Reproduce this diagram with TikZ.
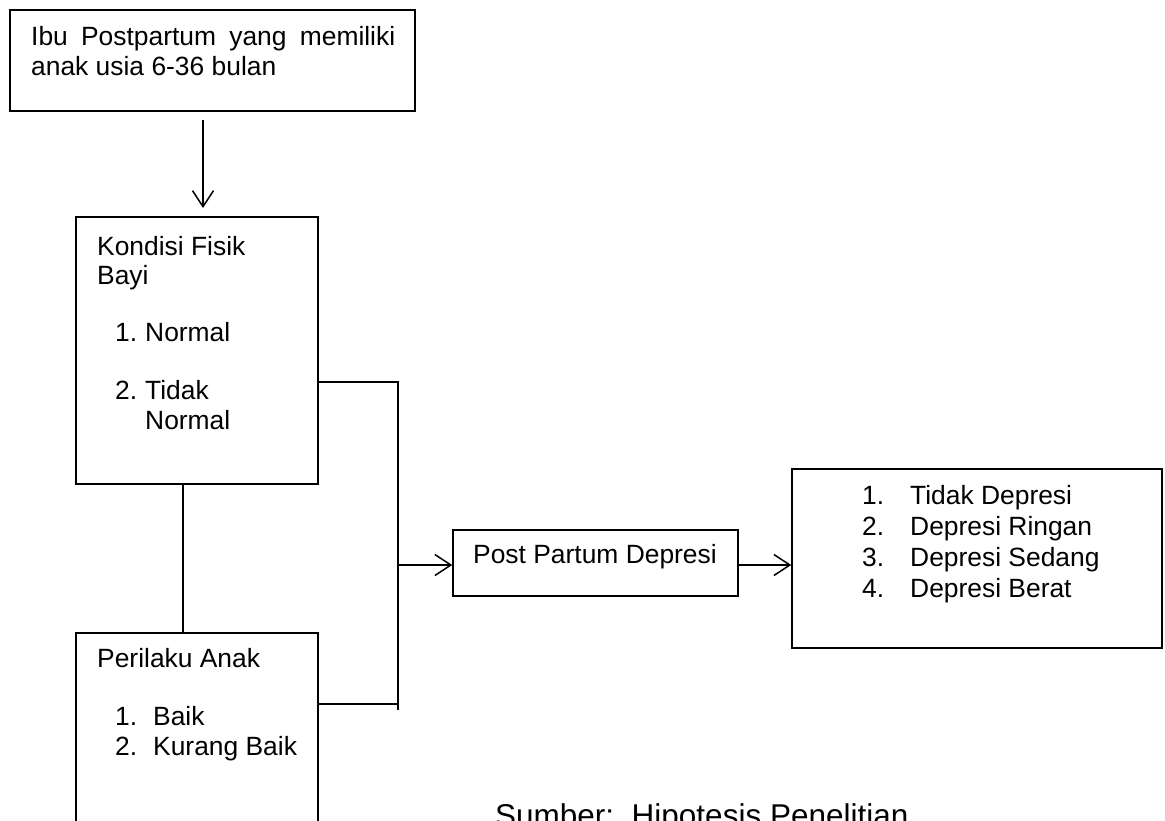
\documentclass[tikz,border=0pt]{standalone}
\usepackage{fontspec}
\setmainfont{Liberation Sans}
\usetikzlibrary{arrows.meta,calc}
\begin{document}
\begin{tikzpicture}[x=1pt,y=-1pt,
  box/.style={draw,line width=1.5pt,rectangle,inner sep=0pt,anchor=center},
  txt/.style={anchor=base west,inner sep=0pt,font=\fontsize{26.4}{30}\selectfont},
  conn/.style={line width=1.5pt},
  arr/.style={line width=1.5pt,-{Straight Barb[length=16pt,width=21pt]}}]
\useasboundingbox (0,0) rectangle (1165,820);
\clip (0,0) rectangle (1165,820);
\fill[white] (0,0) rectangle (1165,820);
% boxes
\node[box,minimum width=405pt,minimum height=101pt] (ibu) at (212.5,60.5) {};
\node[box,minimum width=242pt,minimum height=267pt] (kondisi) at (197,350.5) {};
\node[box,minimum width=242pt,minimum height=212pt] (perilaku) at (197,739) {};
\node[box,minimum width=285pt,minimum height=66pt] (ppd) at (595.5,563) {};
\node[box,minimum width=370pt,minimum height=179pt] (hasil) at (977,558.5) {};
% texts
\node[txt] (t1) at (31,45) {\makebox[364pt][s]{Ibu Postpartum yang memiliki}};
\node[txt] (t2) at (31,75) {anak usia 6-36 bulan};
\node[txt] (k1) at (97,255) {Kondisi Fisik};
\node[txt] (k2) at (97,284) {Bayi};
\node[txt] (k3n) at (115,341) {1.};
\node[txt] (k3) at (145,341) {Normal};
\node[txt] (k4n) at (115,399) {2.};
\node[txt] (k4) at (145,399) {Tidak};
\node[txt] (k5) at (145,429) {Normal};
\node[txt] (p1) at (97,667) {Perilaku Anak};
\node[txt] (p2n) at (115,725) {1.};
\node[txt] (p2) at (153,725) {Baik};
\node[txt] (p3n) at (115,755) {2.};
\node[txt] (p3) at (153,755) {Kurang Baik};
\node[txt] (ppdt) at (473,563) {Post Partum Depresi};
\node[txt] (h1n) at (862,504) {1.};
\node[txt] (h1) at (910,504) {Tidak Depresi};
\node[txt] (h2n) at (862,535) {2.};
\node[txt] (h2) at (910,535) {Depresi Ringan};
\node[txt] (h3n) at (862,566) {3.};
\node[txt] (h3) at (910,566) {Depresi Sedang};
\node[txt] (h4n) at (862,597) {4.};
\node[txt] (h4) at (910,597) {Depresi Berat};
\node[anchor=base west,inner sep=0pt,font=\fontsize{31.5}{36}\selectfont] (sumber) at (495,826) {Sumber:\ \ Hipotesis Penelitian};
% coordinates
\coordinate (a1) at (203,120);
\coordinate (a2) at (203,208);
\coordinate (j1) at (398,382);
\coordinate (j2) at (398,704);
\coordinate (busend) at (398,710);
\coordinate (busmid) at (398,565);
% connectors
\draw[arr] (a1) -- (a2);
\draw[conn] ([xshift=-14pt]kondisi.south) -- ([xshift=-14pt]perilaku.north);
\draw[conn] (kondisi.east |- j1) -- (j1) -- (busend);
\draw[conn] (perilaku.east |- j2) -- (j2);
\draw[arr] (busmid) -- (ppd.west |- busmid);
\draw[arr] (ppd.east |- busmid) -- (hasil.west |- busmid);
\end{tikzpicture}
\end{document}
